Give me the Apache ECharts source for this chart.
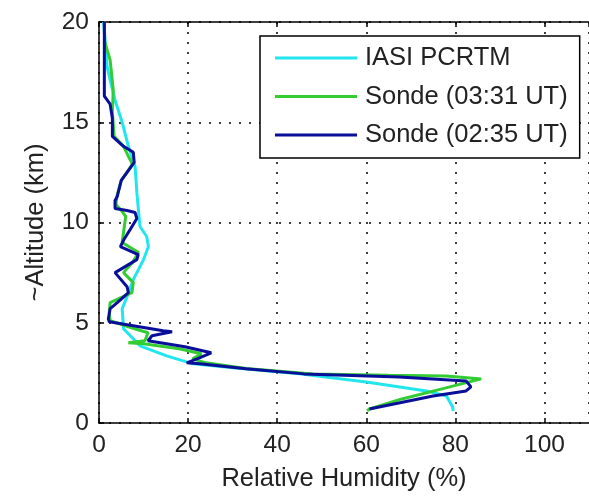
<!DOCTYPE html>
<html>
<head>
<meta charset="utf-8">
<script src="https://cdn.jsdelivr.net/npm/echarts@6/dist/echarts.min.js"></script>
<style>
  html, body { margin: 0; padding: 0; background: #fff; }
  #chart { width: 589px; height: 497px; }
</style>
</head>
<body>
<div id="chart"></div>
<script>
// Relative humidity profiles: [RH (%), altitude (km)]
const iasiPcrtm = [
  [1.0, 20], [1.4, 19], [1.8, 17.8], [2.6, 17], [3.6, 16.1], [5.2, 15],
  [6.6, 13.8], [8.1, 12.8], [8.5, 11.5], [8.9, 10.5], [9.2, 9.8], [10.7, 9.3],
  [11.1, 8.8], [10.0, 8.15], [7.7, 7.15], [6.3, 6.3], [5.2, 5.7], [5.5, 4.7],
  [6.6, 4.45], [9.2, 3.85], [15.2, 3.35], [21.1, 2.95], [30, 2.75], [45, 2.45],
  [60, 2.05], [73.5, 1.6], [78, 1.35], [79.4, 0.8], [79.5, 0.6]
];

const sonde0331 = [
  [1.2, 20], [1.3, 19], [2.5, 18.1], [3.2, 16.6], [3.0, 15.5], [3.4, 14.3],
  [5.5, 13.8], [6.6, 13.3], [7.5, 12.9], [5.0, 12.1], [4.0, 11.3], [3.8, 10.9],
  [5.0, 10.6], [6.0, 10.3], [5.5, 9.5], [5.2, 9.0], [8.9, 8.5], [7.5, 8.0],
  [5.5, 7.5], [7.7, 7.0], [7.4, 6.5], [2.5, 6.0], [2.3, 5.5], [2.5, 5.1],
  [8.0, 4.7], [11.0, 4.5], [10.3, 4.1], [6.6, 4.0], [10.0, 3.95], [18, 3.7],
  [23, 3.45], [21, 3.2], [24, 3.0], [33, 2.72], [48, 2.45], [65, 2.38],
  [78, 2.35], [85.8, 2.2], [77, 1.7], [68, 1.2], [60.7, 0.7], [60.2, 0.6]
];

const sonde0235 = [
  [1.2, 20], [1.2, 16.3], [2.5, 15.9], [3.0, 15.2], [3.0, 14.3], [5.5, 13.8],
  [7.7, 13.5], [7.9, 13.0], [6.3, 12.5], [5.0, 12.1], [4.1, 11.3], [3.6, 11.1],
  [3.6, 10.7], [6.3, 10.6], [8.1, 10.5], [8.5, 10.2], [7.0, 9.65], [5.6, 9.15],
  [4.8, 8.8], [8.8, 8.4], [8.5, 8.15], [3.6, 7.5], [6.3, 6.8], [6.6, 6.5],
  [4.1, 6.0], [2.5, 5.7], [2.1, 5.2], [2.3, 5.05], [14.4, 4.6], [16.4, 4.55],
  [11.9, 4.35], [11.0, 4.1], [19.3, 3.8], [25.2, 3.5], [22.0, 3.2], [19.7, 3.0],
  [22.7, 2.95], [33, 2.7], [46, 2.45], [67.4, 2.3], [82.4, 2.1], [83.5, 1.8],
  [82.4, 1.6], [75, 1.35], [60.7, 0.7]
];

const seriesNames = ['IASI PCRTM', 'Sonde (03:31 UT)', 'Sonde (02:35 UT)'];
const seriesColors = ['#22e6ee', '#33cc33', '#0a0f9a'];
const xTicks = { min: 0, max: 110, step: 20 };
const yTicks = { min: 0, max: 20, step: 5 };

const FONT = 'Liberation Sans, Arial, sans-serif';
const TEXT = '#222';
const chart = echarts.init(document.getElementById('chart'), null, { renderer: 'canvas' });

const dotted = { show: true, lineStyle: { color: '#000', width: 1.5, type: [2, 8] } };
const blackLine = { show: true, onZero: false, lineStyle: { color: '#000', width: 1.5 } };
const inTicks = { show: true, inside: true, length: 5, lineStyle: { color: '#000', width: 1.5 } };

function profile(name, data, color) {
  return {
    name, type: 'line', data,
    symbol: 'none', smooth: false,
    lineStyle: { color, width: 3 },
    itemStyle: { color },
    z: 3
  };
}

chart.setOption({
  animation: false,
  backgroundColor: '#fff',
  grid: { left: 99, right: -2, top: 22, bottom: 73, containLabel: false },
  xAxis: [{
    type: 'value', min: xTicks.min, max: xTicks.max, interval: xTicks.step,
    position: 'bottom',
    name: 'Relative Humidity (%)', nameLocation: 'middle', nameGap: 43,
    nameTextStyle: { fontFamily: FONT, fontSize: 25.5, color: TEXT },
    axisLine: blackLine,
    axisTick: inTicks,
    axisLabel: { fontFamily: FONT, fontSize: 24.5, color: TEXT, margin: 10, showMaxLabel: false },
    splitLine: dotted
  }, {
    type: 'value', min: xTicks.min, max: xTicks.max, interval: xTicks.step,
    position: 'top',
    axisLine: blackLine,
    axisTick: inTicks,
    axisLabel: { show: false },
    splitLine: { show: false }
  }],
  yAxis: [{
    type: 'value', min: yTicks.min, max: yTicks.max, interval: yTicks.step,
    name: '~Altitude (km)', nameLocation: 'middle', nameGap: 50, nameRotate: 90,
    nameTextStyle: { fontFamily: FONT, fontSize: 25.5, color: TEXT },
    axisLine: blackLine,
    axisTick: inTicks,
    axisLabel: { fontFamily: FONT, fontSize: 24.5, color: TEXT, margin: 10 },
    splitLine: dotted
  }],
  legend: {
    orient: 'vertical',
    left: 260, top: 36,
    padding: [9, 12, 10, 15],
    backgroundColor: '#fff',
    borderColor: '#000', borderWidth: 1.5, borderRadius: 0,
    icon: 'rect',
    itemWidth: 82, itemHeight: 3, itemGap: 12.5,
    textStyle: { fontFamily: FONT, fontSize: 25.5, color: TEXT, lineHeight: 25.5, padding: [0, 0, 0, 3] },
    data: seriesNames
  },
  series: [
    profile(seriesNames[0], iasiPcrtm, seriesColors[0]),
    profile(seriesNames[1], sonde0331, seriesColors[1]),
    profile(seriesNames[2], sonde0235, seriesColors[2])
  ]
});
</script>
</body>
</html>
